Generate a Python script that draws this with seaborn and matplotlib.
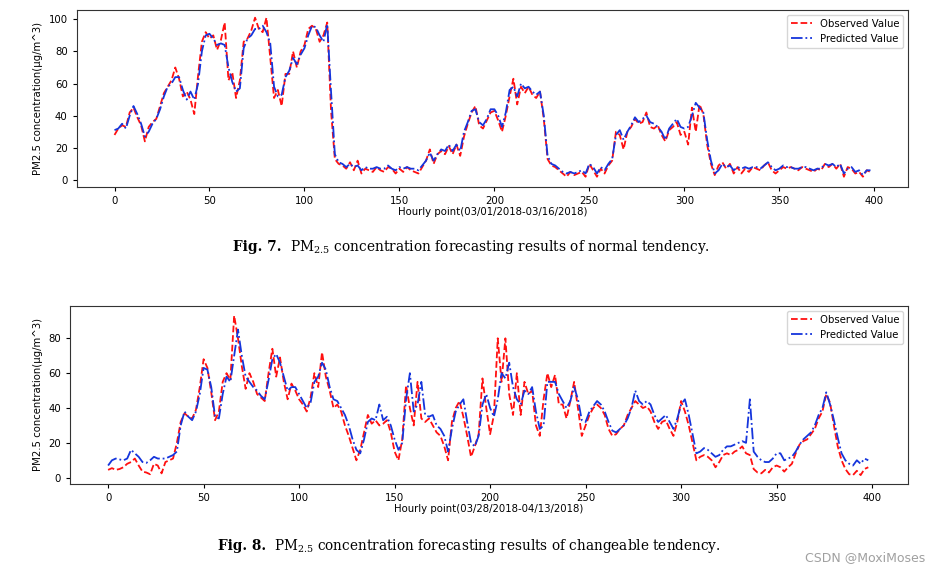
import matplotlib
matplotlib.use("Agg")
import matplotlib.pyplot as plt
import seaborn as sns
import pandas as pd

hours = list(range(0, 400, 2))

obs7 = [28,32,34,33,42,45,39,34,24,33,36,38,46,54,58,62,70,63,52,55,
        50,41,65,86,92,88,90,81,87,98,62,67,51,62,86,88,93,101,94,92,
        101,76,51,56,46,66,66,80,70,80,84,94,96,94,86,90,98,43,13,10,
        9,7,11,6,12,4,7,6,5,8,6,5,8,7,4,7,5,8,6,5,
        4,8,12,19,10,16,18,16,21,16,22,15,27,35,42,46,34,32,37,42,
        43,37,30,40,52,63,47,58,54,58,53,51,55,38,13,9,8,6,4,2,
        5,3,4,5,2,10,6,2,7,4,9,12,30,28,19,30,33,38,35,36,
        42,33,32,34,28,24,31,33,36,28,30,22,45,30,47,41,22,10,3,9,
        11,7,10,4,8,4,7,5,8,7,6,9,11,6,4,6,8,7,8,7,
        6,8,7,6,5,7,6,10,8,10,7,10,2,8,7,4,5,2,6,5]
pred7 = [31,32,35,32,40,46,41,35,27,30,35,38,44,52,58,60,64,64,56,50,
         55,50,60,80,90,91,88,84,85,84,70,61,55,57,82,88,90,94,94,96,
         92,85,58,52,53,64,68,76,72,78,82,90,96,95,90,86,97,55,16,11,
         10,8,10,8,9,6,8,7,7,8,7,7,9,7,6,8,7,8,7,7,
         6,9,12,17,12,16,19,18,22,18,22,18,30,36,43,44,36,34,38,44,
         44,40,33,42,56,58,52,60,57,58,55,53,55,40,15,10,9,7,5,4,
         5,4,5,6,4,10,8,4,8,6,10,13,28,31,25,30,34,39,36,38,
         40,36,35,33,30,25,32,35,38,33,32,33,40,48,45,42,25,12,4,6,
         10,8,9,6,8,7,8,7,8,8,7,9,11,8,6,7,9,8,8,7,
         7,8,8,7,6,7,7,10,9,10,8,10,4,7,8,5,6,3,6,6]

obs8 = [4.5,5.5,4.5,5,6,8,9,11,7,3.5,3,2,8,7,2.5,9,10,11,20,32,
        37,35,34,39,52,68,63,49,33,38,55,60,56,93,80,64,51,60,55,48,
        46,44,60,74,58,69,55,45,54,50,45,42,38,46,60,52,72,58,50,40,
        42,38,30,24,17,10,16,26,36,31,33,30,31,33,26,15,10,22,53,40,
        30,55,34,32,34,30,26,24,18,10,32,40,44,35,24,12,18,25,57,40,
        25,36,80,55,80,48,36,60,36,55,48,50,30,24,45,60,52,59,42,42,
        34,44,55,40,24,30,36,40,42,40,36,28,24,25,28,30,36,40,44,42,
        40,41,38,32,28,32,33,28,24,32,44,38,30,20,10,12,13,12,10,6,
        9,13,14,13,15,16,18,14,13,5,3,2.5,4.5,3,6,7,6,3.5,6,8,
        14,19,21,22,25,28,34,38,48,43,30,18,10,5,2,1.5,4,1.5,5,6]
pred8 = [7,10,11,10.5,10,11,16,14,12,9,8.5,10,12,11,11,11,12,13,15,30,
         38,35,33,38,48,63,62,52,35,34,48,58,55,70,85,70,58,55,52,50,
         47,45,56,68,71,66,58,50,52,52,48,44,40,43,55,58,66,62,52,45,
         44,40,36,30,22,16,14,22,32,34,33,42,33,35,30,22,16,20,45,60,
         38,42,55,36,35,36,30,28,24,15,28,38,42,45,32,20,18,24,42,48,
         40,35,45,60,57,66,52,45,42,50,48,52,38,28,30,55,55,55,48,44,
         40,44,52,45,33,32,38,41,44,42,38,32,27,26,28,30,34,40,50,44,
         42,44,42,36,32,34,36,32,28,34,42,45,36,25,14,15,17,16,14,12,
         13,16,18,18,19,20,21,20,45,15,12,10,9,9,11,14,14,10,11,12,
         15,19,22,24,26,30,36,40,49,42,33,23,14,10,8,7,10,8,11,10]

xticks = [0, 50, 100, 150, 200, 250, 300, 350, 400]
yticks7 = [0, 20, 40, 60, 80, 100]
yticks8 = [0, 20, 40, 60, 80]
xlabel7 = "Hourly point(03/01/2018-03/16/2018)"
xlabel8 = "Hourly point(03/28/2018-04/13/2018)"
ylabel = "PM2.5 concentration(μg/m^3)"
legend_labels = ["Observed Value", "Predicted Value"]
caption7 = ("Fig. 7.", "concentration forecasting results of normal tendency.")
caption8 = ("Fig. 8.", "concentration forecasting results of changeable tendency.")
watermark = "CSDN @MoxiMoses"

plt.rcParams['mathtext.fontset'] = 'dejavuserif'
W, H = 941, 574
fig = plt.figure(figsize=(W / 100, H / 100), dpi=100)
ax1 = fig.add_axes([76.7 / W, 1 - 187 / H, (908.3 - 76.7) / W, (187 - 9.5) / H])
ax2 = fig.add_axes([70 / W, 1 - 484 / H, (908.3 - 70) / W, (484 - 305.7) / H])

FS = 7.3
for ax, obs, pred, xl, yt, xlim, ylim in [
        (ax1, obs7, pred7, xlabel7, yticks7, (-19.9, 417.9), (-4.4, 106.1)),
        (ax2, obs8, pred8, xlabel8, yticks8, (-19.95, 418.95), (-3.6, 98.7))]:
    df = pd.DataFrame({"hour": hours, "obs": obs, "pred": pred})
    sns.lineplot(data=df, x="hour", y="obs", ax=ax, color="#ff1010",
                 linestyle="--", lw=1.3, label=legend_labels[0])
    sns.lineplot(data=df, x="hour", y="pred", ax=ax, color="#1535dc",
                 linestyle="-.", lw=1.3, label=legend_labels[1])
    ax.set_xlim(*xlim)
    ax.set_ylim(*ylim)
    ax.set_xticks(xticks)
    ax.set_yticks(yt)
    ax.tick_params(labelsize=FS, length=3)
    ax.set_xlabel(xl, fontsize=FS, labelpad=1)
    ax.set_ylabel(ylabel, fontsize=FS, labelpad=4)
    ax.legend(loc="upper right", fontsize=FS, frameon=True, handlelength=2.0)
    for s in ax.spines.values():
        s.set_color("#333333")

r = fig.canvas.get_renderer()
def caption(x_px, y_px, parts, fs):
    t1 = fig.text(x_px / W, 1 - y_px / H, parts[0], fontfamily="DejaVu Serif",
                  fontweight="bold", fontsize=fs, va="center")
    bb = t1.get_window_extent(r)
    fig.text((bb.x1 + 8) / W, 1 - y_px / H, r"PM$_{2.5}$ " + parts[1],
             fontfamily="DejaVu Serif", fontsize=fs, va="center")

caption(233, 247, caption7, 9.9)
caption(218, 546, caption8, 9.8)
fig.text(925 / W, 1 - 558 / H, watermark, ha="right", va="center",
         fontsize=9, color="#a0a0a0")

fig.savefig("out.png", dpi=100)
